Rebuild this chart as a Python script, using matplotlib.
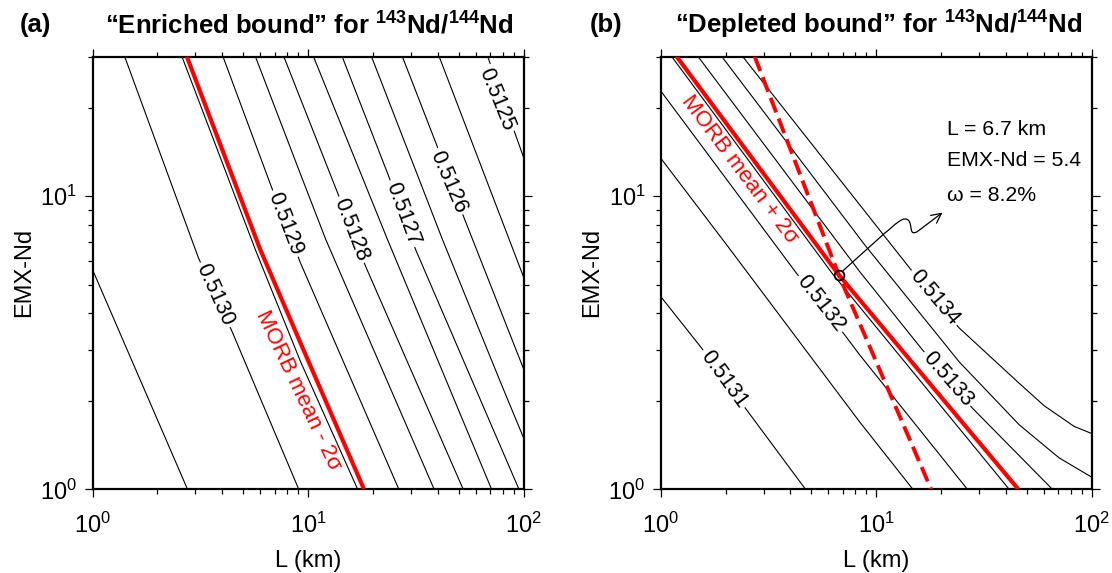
import matplotlib
matplotlib.use("Agg")
import matplotlib.pyplot as plt
from matplotlib.ticker import NullFormatter
from matplotlib.path import Path
from matplotlib.patches import FancyArrowPatch

plt.rcParams["font.family"] = ["Liberation Sans", "DejaVu Sans"]
plt.rcParams["mathtext.fontset"] = "custom"
plt.rcParams["mathtext.rm"] = "Liberation Sans"
plt.rcParams["mathtext.bf"] = "Liberation Sans:bold"
plt.rcParams["mathtext.it"] = "Liberation Sans:italic"
plt.rcParams["mathtext.default"] = "regular"

# ---- panel (a): "enriched bound" iso-lines (L in km, EMX-Nd)
A_LEVELS = ["0.51305", "0.5130", "0.51295", "0.5129", "0.51285", "0.5128",
            "0.51275", "0.5127", "0.51265", "0.5126", "0.51255", "0.5125"]
A_L = [
    [1.0, 2.76],
    [1.41, 3.10, 4.44, 9.06],
    [2.60, 5.70, 9.23, 17.0],
    [4.03, 6.69, 9.23, 26.4],
    [5.70, 9.23, 12.1, 38.5],
    [7.72, 13.7, 18.5, 52.5],
    [10.6, 23.4, 71.1],
    [14.4, 23.8, 31.6, 95.3],
    [19.7, 42.1, 78.6, 100],
    [27.4, 39.5, 53.0, 100],
    [40.6, 100],
    [68.2, 100],
]
A_E = [
    [5.62, 1.0],
    [30, 6.17, 3.46, 1.0],
    [30, 6.57, 2.73, 1.0],
    [30, 11.0, 5.92, 1.0],
    [30, 11.9, 7.11, 1.0],
    [30, 10.3, 5.77, 1.0],
    [30, 7.11, 1.0],
    [30, 11.6, 6.57, 1.0],
    [30, 7.11, 2.30, 1.50],
    [30, 15.0, 8.44, 2.58],
    [30, 5.31],
    [30, 13.6],
]
A_RED_L = [2.74, 6.01, 9.23, 18.2]     # MORB mean - 2sigma
A_RED_E = [30, 6.57, 3.16, 1.0]

# contour labels (text, L, EMX, angle)
A_LAB_TXT = ["0.5130", "0.5129", "0.5128", "0.5127", "0.5126", "0.5125"]
A_LAB_L = [3.71, 7.86, 15.9, 27.5, 44.8, 75.3]
A_LAB_E = [4.61, 8.07, 7.69, 8.73, 11.2, 21.4]
A_LAB_ROT = [-65.6, -69, -69, -69.6, -66.7, -68]

# ---- panel (b): "depleted bound"
B_LEVELS = ["0.5131", "0.51315", "0.5132", "0.51325", "0.5133", "0.51335", "0.5134"]
B_L = [
    [1.0, 1.55, 2.50, 4.70],
    [1.0, 2.02, 8.37, 14.8],
    [1.0, 4.26, 7.13, 8.37, 26.5],
    [1.124, 6.28, 41.4],
    [1.49, 8.37, 16.4, 28.0, 65.7],
    [1.92, 8.83, 24.3, 46.1, 70.6, 100],
    [2.40, 8.37, 14.3, 24.3, 46.1, 60.1, 82.8, 100],
]
B_E = [
    [4.55, 3.03, 1.87, 1.0],
    [13.5, 6.84, 1.70, 1.0],
    [22.9, 5.47, 3.37, 2.88, 1.0],
    [30, 5.43, 1.0],
    [30, 5.54, 2.99, 1.89, 1.0],
    [30, 6.84, 2.72, 1.66, 1.28, 1.10],
    [30, 9.37, 5.69, 3.55, 2.30, 1.93, 1.64, 1.55],
]
B_RED_L = [1.186, 6.7, 45.7]          # MORB mean + 2sigma
B_RED_E = [30, 5.4, 1.0]
B_DASH_L = [2.73, 6.7, 18.0]
B_DASH_E = [30, 5.4, 1.0]

B_LAB_TXT = ["0.5131", "0.5132", "0.5133", "0.5134"]
B_LAB_L = [1.96, 5.52, 21.4, 18.6]
B_LAB_E = [2.38, 4.30, 2.38, 4.51]
B_LAB_ROT = [-54, -52, -49, -50]

BEST_L, BEST_E = 6.7, 5.4
BEST_TXT = ["L = 6.7 km", "EMX-Nd = 5.4", "ω = 8.2%"]

RED = "#ff0000"
FS_TICK = 17
FS_LAB = 15.5
FS_TITLE = 18.5

fig = plt.figure(figsize=(11.12, 5.73), dpi=100)
W, H = 1112.0, 573.0
ax_a = fig.add_axes([92.5 / W, 1 - 489.3 / H, 431 / W, 432.8 / H])
ax_b = fig.add_axes([660.7 / W, 1 - 489.3 / H, 431 / W, 432.8 / H])


def style_axes(ax):
    ax.set_xscale("log")
    ax.set_yscale("log")
    ax.set_xlim(1, 100)
    ax.set_ylim(1, 30)
    ax.yaxis.set_minor_formatter(NullFormatter())
    ax.xaxis.set_minor_formatter(NullFormatter())
    ax.tick_params(which="both", direction="out", top=True, right=True,
                   width=0.9, labelsize=FS_TICK, color="k")
    ax.tick_params(which="major", length=6)
    ax.tick_params(which="minor", length=3.6)
    ax.tick_params(axis="x", which="major", pad=10.5)
    ax.tick_params(axis="y", which="major", pad=5)
    for s in ax.spines.values():
        s.set_linewidth(1.6)
    ax.set_xlabel("L (km)", fontsize=FS_TICK, labelpad=9)
    ax.set_ylabel("EMX-Nd", fontsize=FS_TICK, labelpad=4)


def contour_label(ax, txt, x, y, rot, color="k"):
    ax.text(x, y, txt, fontsize=FS_LAB, color=color, rotation=rot,
            rotation_mode="anchor", ha="center", va="center", zorder=5,
            bbox=dict(boxstyle="square,pad=0.12", fc="white", ec="none"))


# panel (a)
style_axes(ax_a)
for xs, ys in zip(A_L, A_E):
    ax_a.plot(xs, ys, color="k", lw=0.8, zorder=2)
ax_a.plot(A_RED_L, A_RED_E, color=RED, lw=3, zorder=3, solid_capstyle="butt")
for t, x, y, r in zip(A_LAB_TXT, A_LAB_L, A_LAB_E, A_LAB_ROT):
    contour_label(ax_a, t, x, y, r)
ax_a.text(9.03, 2.18, "MORB mean - 2σ", fontsize=16, color=RED, rotation=-64.7,
          rotation_mode="anchor", ha="center", va="center", zorder=5)

# panel (b)
style_axes(ax_b)
for xs, ys in zip(B_L, B_E):
    ax_b.plot(xs, ys, color="k", lw=0.8, zorder=2)
ax_b.plot(B_RED_L, B_RED_E, color=RED, lw=3, zorder=3, solid_capstyle="butt")
ax_b.plot(B_DASH_L, B_DASH_E, color=RED, lw=2.8, ls=(0, (4, 1.7)), zorder=3)
for t, x, y, r in zip(B_LAB_TXT, B_LAB_L, B_LAB_E, B_LAB_ROT):
    contour_label(ax_b, t, x, y, r)
ax_b.text(2.33, 12.3, "MORB mean + 2σ", fontsize=16, color=RED, rotation=-53,
          rotation_mode="anchor", ha="center", va="center", zorder=5)

ax_b.plot([BEST_L], [BEST_E], marker="o", ms=7, mfc="none", mec="k", mew=1.3, zorder=6)

# wavy pointer from the marked point to the annotation
verts = [(7.01, 5.57), (10.9, 7.46),
         (12.15, 7.94), (13.5, 8.73), (14.26, 8.20),
         (14.7, 7.82), (14.26, 7.34), (15.5, 7.57),
         (20.3, 8.80)]
codes = [Path.MOVETO, Path.LINETO,
         Path.CURVE4, Path.CURVE4, Path.CURVE4,
         Path.CURVE4, Path.CURVE4, Path.CURVE4,
         Path.LINETO]
arrow = FancyArrowPatch(path=Path(verts, codes), arrowstyle="->,head_length=0.5,head_width=0.25",
                        mutation_scale=14, lw=0.9, color="k", transform=ax_b.transData, zorder=6)
ax_b.add_patch(arrow)

for txt, e in zip(BEST_TXT, [16.9, 13.2, 10.1]):
    ax_b.text(21.2, e, txt, fontsize=15.3, ha="left", va="center")

# titles
fig.text(309 / W, 1 - 25 / H, "“Enriched bound” for $^{143}$Nd/$^{144}$Nd",
         fontsize=FS_TITLE, fontweight="bold", ha="center", va="center")
fig.text(879 / W, 1 - 25 / H, "“Depleted bound” for $^{143}$Nd/$^{144}$Nd",
         fontsize=FS_TITLE, fontweight="bold", ha="center", va="center")
fig.text(20 / W, 1 - 25 / H, "(a)", fontsize=FS_TITLE, fontweight="bold", ha="left", va="center")
fig.text(590 / W, 1 - 25 / H, "(b)", fontsize=FS_TITLE, fontweight="bold", ha="left", va="center")

fig.savefig("out.png", dpi=100)
